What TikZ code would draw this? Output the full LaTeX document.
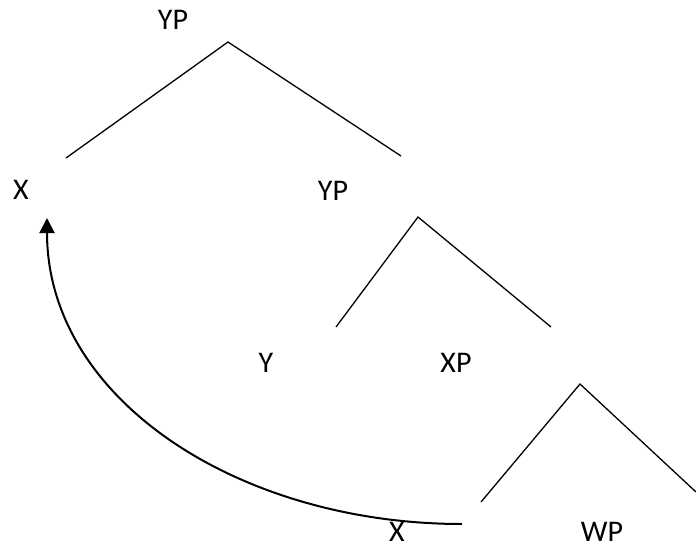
\documentclass[tikz,border=0pt]{standalone}
\usepackage{fontspec}
\setmainfont{Carlito}
\usetikzlibrary{arrows.meta}
\tikzset{
  lab/.style={font=\fontsize{30}{36}\selectfont,inner sep=0pt,anchor=base},
  branch/.style={line width=1.3pt,draw=black},
  move/.style={line width=2pt,draw=black,-{Triangle[width=15pt,length=15pt]}}
}
\begin{document}
\begin{tikzpicture}[x=1pt,y=-1pt]
\useasboundingbox (0,0) rectangle (696,543);

% labels
\node[lab] (yptop) at (173,30) {YP};
\node[lab] (xhead) at (21,199) {X};
\node[lab] (ypmid) at (333,200) {YP};
\node[lab] (yhead) at (266,372) {Y};
\node[lab] (xp) at (456,372) {XP};
\node[lab] (xtrace) at (397,541) {X};
\node[lab] (wp) at (602,541) {WP};

% branch ends
\coordinate (apexa) at (228,42);
\coordinate (lefta) at (66,158);
\coordinate (righta) at (401,156);
\coordinate (apexb) at (418,217);
\coordinate (leftb) at (336,327);
\coordinate (rightb) at (551,327);
\coordinate (apexc) at (580,384);
\coordinate (leftc) at (481,502);
\coordinate (rightc) at (696,492);
\coordinate (movestart) at (462,524);
\coordinate (moveend) at (47,218);

\draw[branch] (lefta) -- (apexa) -- (righta);
\draw[branch] (leftb) -- (apexb) -- (rightb);
\draw[branch] (leftc) -- (apexc) -- (rightc);

% movement
\draw[move] (movestart) .. controls (240,524) and (47,400) .. (moveend);
\end{tikzpicture}
\end{document}
